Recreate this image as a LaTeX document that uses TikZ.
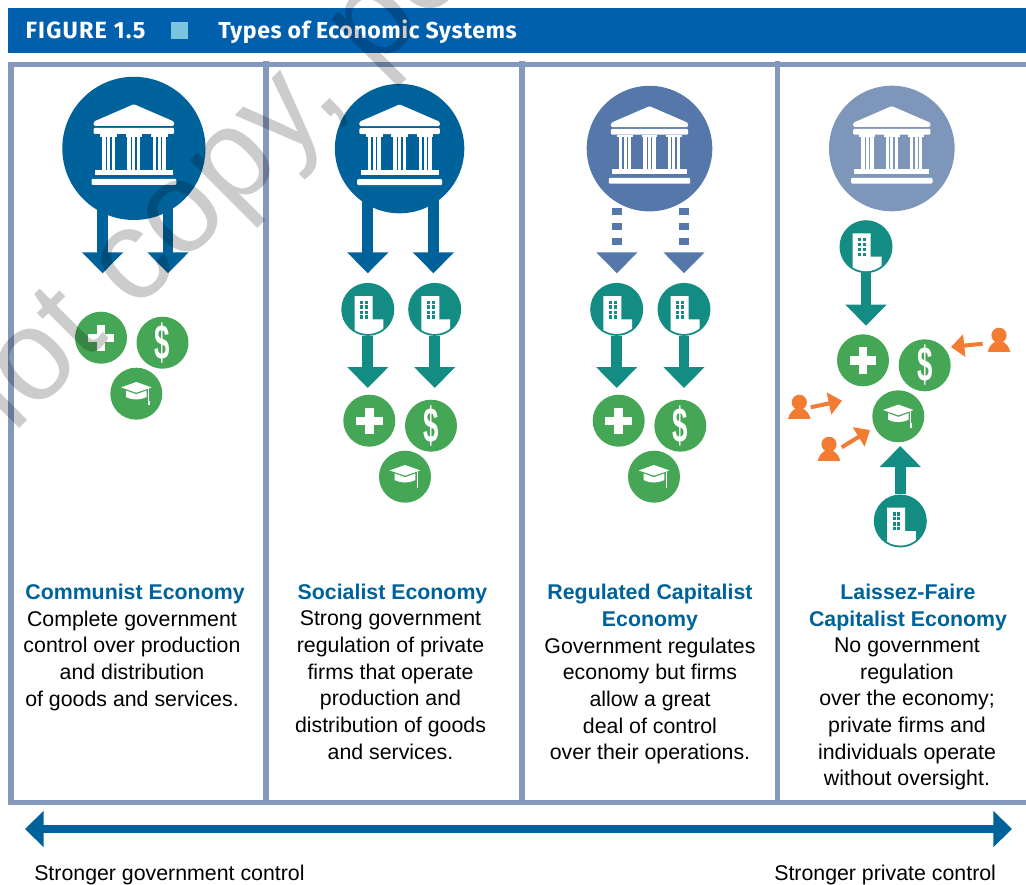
\documentclass[tikz,border=0pt]{standalone}
\usepackage{fontspec}
\usepackage{graphicx}
\setmainfont{Liberation Sans}
\newfontfamily\titlefont[LetterSpace=2.5]{Fira Sans}
\newfontfamily\figfont[LetterSpace=5]{Fira Sans}
\usetikzlibrary{arrows.meta}
\definecolor{hdr}{HTML}{0060AE}
\definecolor{sq}{HTML}{7BC4DD}
\definecolor{frm}{HTML}{8497BD}
\definecolor{gova}{HTML}{00629B}
\definecolor{govb}{HTML}{5577A9}
\definecolor{govc}{HTML}{7F96BB}
\definecolor{teal}{HTML}{138D84}
\definecolor{grn}{HTML}{45A655}
\definecolor{org}{HTML}{F47B32}
\tikzset{
  govdisc/.style={circle,inner sep=0pt,minimum size=#1*.75pt},
  firm/.style={circle,inner sep=0pt,minimum size=39.75pt,fill=teal},
  svc/.style={circle,inner sep=0pt,minimum size=39pt,fill=grn,text=white},
  blockarr/.style={line width=8pt,-{Triangle[width=30pt,length=15.75pt]}},
  orgarr/.style={org,line width=3pt,-{Triangle[width=16.5pt,length=10pt]}},
  head/.style={font=\bfseries\fontsize{16pt}{20pt}\selectfont,text=gova,align=center,inner sep=0pt,anchor=base},
  txt/.style={font=\fontsize{16pt}{20pt}\selectfont,align=center,inner sep=0pt,anchor=north},
  frameline/.style={frm,line width=4.05pt},
}
\newcommand{\govicon}[2]{%
 \begin{scope}[shift={(#1)},scale=#2]
  \fill[white,rounded corners=1pt] (0,-44.2) -- (40.2,-26.8) -- (40.2,-22.5) -- (-40.2,-22.5) -- (-40.2,-26.8) -- cycle;
  \fill[white,rounded corners=.8pt] (-40.2,-20.5) rectangle (40.2,-14.5);
  \foreach \d in {-25.4,0,25.4}{
   \fill[white] (\d-8.3,-14.6) rectangle (\d+8.3,-11.8);
   \fill[white] (\d-6.5,-12) rectangle (\d-3,21.6);
   \fill[white] (\d-1.5,-12) rectangle (\d+1.5,21.6);
   \fill[white] (\d+3,-12) rectangle (\d+6.5,21.6);
  }
  \fill[white] (-38.9,21.5) rectangle (38.9,26.8);
  \fill[white,rounded corners=.8pt] (-42.4,30.5) rectangle (42.4,36.5);
 \end{scope}}
\newcommand{\firmicon}[1]{%
 \begin{scope}[shift={(#1)}]
  \begin{scope}
   \clip (0,0) circle (24.6);
   \fill[white] (-13.3,-13.3) -- (4.7,-13.3) -- (4.7,10) -- (15.5,10) -- (15.5,30) -- (-13.3,30) -- cycle;
  \end{scope}
  \foreach \x in {-7.8,-3.2}{\foreach \y in {-8.7,-4,1.3,6}{
    \fill[teal] (\x,\y) rectangle ++(3.1,3.2);}}
 \end{scope}}
\newcommand{\plusicon}[1]{%
 \begin{scope}[shift={(#1)}]
  \fill[white] (-13.3,-4.2) rectangle (13.3,4.2);
  \fill[white] (-4.4,-13.2) rectangle (4.4,13.2);
 \end{scope}}
\newcommand{\capicon}[1]{%
 \begin{scope}[shift={(#1)}]
  \fill[white] (-15.3,-6.3) -- (0,-11.7) -- (15.3,-6.3) -- (0,-1) -- cycle;
  \fill[white] (-10.3,-3.2) -- (0,0.6) -- (10.3,-3.2) -- (10.3,3.4) .. controls (4,6.6) and (-4,6.6) .. (-10.3,3.4) -- cycle;
  \draw[white,line width=.6pt] (12.4,-5.5) -- (12.4,8);
  \fill[white] (11.5,7) rectangle (13.3,11.5);
 \end{scope}}
\newcommand{\dollaricon}{\fontsize{37pt}{37pt}\selectfont\bfseries\scalebox{.56}[1]{\$}}
\newcommand{\personicon}[1]{%
 \begin{scope}[shift={(#1)}]
  \fill[org] (0,0) circle (7.6);
  \fill[org] (-11.3,16.6) .. controls (-10,11) and (-7,8) .. (-3,6) -- (3,6) .. controls (7,8) and (10,11) .. (11.3,16.6) -- cycle;
 \end{scope}}
\begin{document}
\begin{tikzpicture}[x=.75pt,y=-.75pt]
\useasboundingbox (0,0) rectangle (1026,885);
% header
\fill[hdr] (8,8) rectangle (1026,53);
\node[font=\figfont\bfseries\fontsize{17.6pt}{17pt}\selectfont,text=white,anchor=base west,inner sep=0pt] (fig) at (25.4,38) {FIGURE 1.5};
\fill[sq] (170.7,22) rectangle (187.6,38.5);
\node[font=\titlefont\bfseries\fontsize{17.3pt}{17pt}\selectfont,text=white,anchor=base west,inner sep=0pt] (ttl) at (218,38) {Types of Economic Systems};
% frame
\draw[frameline] (1026,64.2) -- (10.8,64.2) -- (10.8,802.6) -- (1026,802.6);
\draw[frameline] (266,61.3) -- (266,805.3);
\draw[frameline] (521.8,61.3) -- (521.8,805.3);
\draw[frameline] (777.5,61.3) -- (777.5,805.3);
% government circles
\node[govdisc=143.2,fill=gova] (g1) at (133.9,148.4) {};
\node[govdisc=129.4,fill=gova] (g2) at (399.6,148.6) {};
\node[govdisc=125.6,fill=govb] (g3) at (649.5,148.6) {};
\node[govdisc=125.6,fill=govc] (g4) at (891.8,148.5) {};
% firm circles
\node[firm] (f2a) at (367.8,309.4) {};
\node[firm] (f2b) at (434.7,309.4) {};
\node[firm] (f3a) at (616.7,309.4) {};
\node[firm] (f3b) at (684,309.4) {};
\node[firm] (f4a) at (866,246.7) {};
\node[firm] (f4b) at (900.3,521) {};
% services
\node[svc] (p1) at (101,337.7) {};
\node[svc] (d1) at (162.5,342.7) {\dollaricon};
\node[svc] (c1) at (136.3,393.7) {};
\node[svc] (p2) at (369.3,420.7) {};
\node[svc] (d2) at (431,425.7) {\dollaricon};
\node[svc] (c2) at (405,476.7) {};
\node[svc] (p3) at (618.7,420.7) {};
\node[svc] (d3) at (680.3,425.7) {\dollaricon};
\node[svc] (c3) at (654,476.7) {};
\node[svc] (p4) at (863,360.3) {};
\node[svc] (d4) at (924.7,365.3) {\dollaricon};
\node[svc] (c4) at (898.3,416.3) {};
% named ends
\coordinate (s1a) at (102.6,200); \coordinate (t1a) at (102.6,273.3);
\coordinate (s1b) at (168,200);   \coordinate (t1b) at (168,273.3);
\coordinate (s2a) at (367.8,195); \coordinate (t2a) at (367.8,273.3);
\coordinate (s2b) at (433.4,195); \coordinate (t2b) at (433.4,273.3);
\coordinate (s3a) at (616.9,207.7); \coordinate (t3a) at (616.9,273.3);
\coordinate (s3b) at (684,207.7);   \coordinate (t3b) at (684,273.3);
\coordinate (u2a) at (367.8,388); \coordinate (u2b) at (434.7,388);
\coordinate (u3a) at (616.7,388); \coordinate (u3b) at (684,388);
\coordinate (u4a) at (866,325.7); \coordinate (u4b) at (900.3,446);
% arrows
\draw[blockarr,gova] (s1a) -- (t1a);
\draw[blockarr,gova] (s1b) -- (t1b);
\draw[blockarr,gova] (s2a) -- (t2a);
\draw[blockarr,gova] (s2b) -- (t2b);
\draw[blockarr,govb,dash pattern=on 5.5pt off 5.75pt] (s3a) -- (t3a);
\draw[blockarr,govb,dash pattern=on 5.5pt off 5.75pt] (s3b) -- (t3b);
\draw[blockarr,teal] (f2a.south) -- (u2a);
\draw[blockarr,teal] (f2b.south) -- (u2b);
\draw[blockarr,teal] (f3a.south) -- (u3a);
\draw[blockarr,teal] (f3b.south) -- (u3b);
\draw[blockarr,teal] (f4a.south) -- (u4a);
\draw[blockarr,teal] (f4b.north) -- (u4b);
% icons
\govicon{g1}{1}
\govicon{g2}{1}
\govicon{g3}{.96}
\govicon{g4}{.96}
\firmicon{f2a}\firmicon{f2b}\firmicon{f3a}\firmicon{f3b}\firmicon{f4a}\firmicon{f4b}
\plusicon{p1}\plusicon{p2}\plusicon{p3}\plusicon{p4}
\capicon{c1}\capicon{c2}\capicon{c3}\capicon{c4}
% people
\coordinate (h1) at (999,335.3);
\coordinate (h2) at (799.3,402.3);
\coordinate (h3) at (829,444.3);
\personicon{h1}\personicon{h2}\personicon{h3}
\coordinate (o1s) at (982.7,343.7); \coordinate (o1t) at (951,347);
\coordinate (o2s) at (810.7,407.3); \coordinate (o2t) at (842,400.7);
\coordinate (o3s) at (841.7,447.3); \coordinate (o3t) at (870,430);
\draw[orgarr] (o1s) -- (o1t);
\draw[orgarr] (o2s) -- (o2t);
\draw[orgarr] (o3s) -- (o3t);
% texts
\node[head] (h1t) at (135,599) {Communist Economy};
\node[txt] (b1) at (132,610.5) {Complete government\\control over production\\and distribution\\of goods and services.};
\node[head] (h2t) at (392.5,599) {Socialist Economy};
\node[txt] (b2) at (390.5,610.5) {Strong government\\regulation of private\\firms that operate\\production and\\distribution of goods\\and services.};
\node[head,anchor=north] (h3t) at (650,584) {Regulated Capitalist\\Economy};
\node[txt] (b3) at (650,637.5) {Government regulates\\economy but firms\\allow a great\\deal of control\\over their operations.};
\node[head,anchor=north] (h4t) at (908,584) {Laissez-Faire\\Capitalist Economy};
\node[txt] (b4) at (907,637.5) {No government\\regulation\\over the economy;\\private firms and\\individuals operate\\without oversight.};
% scale
\coordinate (al) at (25,829); \coordinate (ar) at (1012,829);
\draw[gova,line width=6pt,{Triangle[width=26.5pt,length=14pt]}-{Triangle[width=26.5pt,length=14pt]}] (al) -- (ar);
\node[font=\fontsize{16pt}{20pt}\selectfont,anchor=base west,inner sep=0pt] (sg) at (34,880.5) {Stronger government control};
\node[font=\fontsize{16pt}{20pt}\selectfont,anchor=base west,inner sep=0pt] (sp) at (774,880.5) {Stronger private control};
% watermark
\begin{scope}
\clip (0,0) rectangle (1026,885);
\node[rotate=45,anchor=base west,inner sep=0pt,text=black,text opacity=.2,font=\fontsize{97.5pt}{97.5pt}\selectfont] (wm) at (-18,466) {not copy, post};
\end{scope}
\end{tikzpicture}
\end{document}
